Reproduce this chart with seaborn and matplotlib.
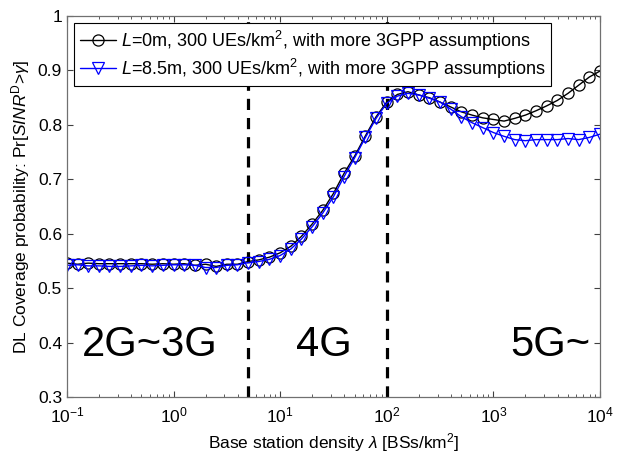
import numpy as np
import pandas as pd
import matplotlib
matplotlib.use("Agg")
import matplotlib.pyplot as plt
import seaborn as sns
from matplotlib.ticker import FormatStrFormatter, LogLocator

# base station density (BSs/km^2), 10 points per decade
density = [0.1, 0.126, 0.158, 0.2, 0.251, 0.316, 0.398, 0.501, 0.631, 0.794,
           1.0, 1.26, 1.58, 2.0, 2.51, 3.16, 3.98, 5.01, 6.31, 7.94,
           10.0, 12.6, 15.8, 20.0, 25.1, 31.6, 39.8, 50.1, 63.1, 79.4,
           100.0, 126, 158, 200, 251, 316, 398, 501, 631, 794,
           1000, 1259, 1585, 1995, 2512, 3162, 3981, 5012, 6310, 7943, 10000]

cov_L0 = [0.546, 0.544, 0.546, 0.545, 0.545, 0.545, 0.545, 0.545, 0.544, 0.545,
          0.544, 0.545, 0.542, 0.544, 0.540, 0.544, 0.544,
          0.549, 0.552, 0.557, 0.565, 0.577, 0.595, 0.618, 0.643, 0.674, 0.711,
          0.743, 0.780, 0.815, 0.842, 0.856,
          0.861, 0.855, 0.850, 0.842, 0.833, 0.824, 0.818, 0.813, 0.810, 0.807,
          0.812, 0.818, 0.826, 0.835, 0.845, 0.858, 0.873, 0.888, 0.899]

cov_L85 = [0.542, 0.543, 0.541, 0.541, 0.540, 0.540, 0.541, 0.542, 0.541, 0.542,
           0.543, 0.543, 0.542, 0.538, 0.538, 0.542, 0.543,
           0.547, 0.549, 0.553, 0.560, 0.572, 0.590, 0.613, 0.638, 0.668, 0.705,
           0.740, 0.777, 0.812, 0.840, 0.853,
           0.858, 0.855, 0.849, 0.842, 0.829, 0.815, 0.804, 0.795, 0.786, 0.779,
           0.773, 0.771, 0.773, 0.773, 0.773, 0.775, 0.773, 0.777, 0.783]

gen_labels = ["2G~3G", "4G", "5G~"]
gen_x = [0.6, 25.7, 3400]
boundaries = [5, 100]

label_L0 = r"$\mathit{L}$=0m, 300 UEs/km$^2$, with more 3GPP assumptions"
label_L85 = r"$\mathit{L}$=8.5m, 300 UEs/km$^2$, with more 3GPP assumptions"

df = pd.DataFrame({"density": density, "L0": cov_L0, "L85": cov_L85})

sns.set_style("ticks")
plt.rcParams["font.family"] = ["Liberation Sans", "DejaVu Sans"]
plt.rcParams["mathtext.fontset"] = "custom"
plt.rcParams["mathtext.rm"] = "Liberation Sans"
plt.rcParams["mathtext.it"] = "Liberation Sans:italic"
plt.rcParams["text.color"] = "black"
plt.rcParams["axes.labelcolor"] = "black"

fig = plt.figure(figsize=(6.25, 4.59), dpi=100)
ax = fig.add_axes([0.107, 0.135, 0.853, 0.83])

sns.lineplot(data=df, x="density", y="L0", ax=ax, color="black", lw=1.0,
             marker="o", ms=8, mfc="none", mec="black", mew=0.9, label=label_L0)
sns.lineplot(data=df, x="density", y="L85", ax=ax, color="blue", lw=1.0,
             marker="v", ms=8, mfc="none", mec="blue", mew=0.9, label=label_L85)

for b in boundaries:
    ax.axvline(b, color="black", lw=2.3, ls=(0, (3.5, 2.5)), zorder=1)

for t, gx in zip(gen_labels, gen_x):
    ax.text(gx, 0.395, t, fontsize=30, ha="center", va="center", color="black")

ax.set_xscale("log")
ax.set_xlim(0.1, 10000)
ax.set_ylim(0.3, 1.0)
ax.set_yticks(np.arange(0.3, 1.01, 0.1))
ax.yaxis.set_major_formatter(FormatStrFormatter("%g"))
ax.xaxis.set_minor_locator(LogLocator(base=10, subs=np.arange(2, 10)))
ax.tick_params(which="both", direction="in", top=True, right=True,
               labelsize=12.5, colors="#404040", labelcolor="black")
ax.tick_params(which="major", length=4.5, width=0.8)
ax.tick_params(which="minor", length=2.5, width=0.6)
ax.tick_params(axis="x", pad=6)
for s in ax.spines.values():
    s.set_color("#707070")
    s.set_linewidth(0.9)

ax.set_xlabel(r"Base station density $\lambda$ [BSs/km$^2$]", fontsize=12.5)
ax.set_ylabel(r"DL Coverage probability: Pr[$\mathit{SINR}^{\mathrm{D}}$>$\gamma$]",
              fontsize=12.5)

leg = ax.legend(loc="upper left", fontsize=13, handlelength=2.0,
                handletextpad=0.3, borderpad=0.3, labelspacing=0.2,
                fancybox=False, edgecolor="black", framealpha=1,
                borderaxespad=0.4)
leg.get_frame().set_linewidth(0.8)
leg.set_zorder(5)

fig.savefig("out.png", dpi=100)
